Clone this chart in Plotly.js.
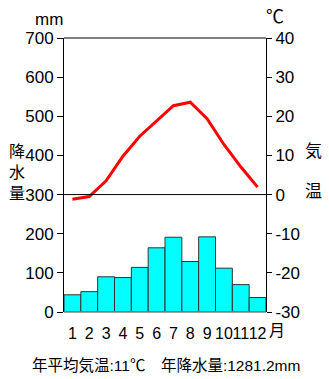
<!DOCTYPE html>
<html>
<head>
<meta charset="utf-8">
<script src="https://cdn.plot.ly/plotly-3.0.1.min.js"></script>
<style>
html,body{margin:0;padding:0;background:#fff;}
#chart{width:329px;height:379px;}
</style>
</head>
<body>
<div id="chart"></div>
<script>
var months = [1,2,3,4,5,6,7,8,9,10,11,12];
var monthLabels = ['1','2','3','4','5','6','7','8','9','10','11','12'];
var precipitation = [44,52,90,88,114,164,191,129,192,112,70,37];
var temperature = [-1.2,-0.5,3.5,9.8,14.9,18.7,22.7,23.6,19.4,12.8,7.1,1.9];
var precipTicks = [0,100,200,300,400,500,600,700];
var tempTicks = [-30,-20,-10,0,10,20,30,40];
var tempTickLabels = ['-30','-20','-10','0','10','20','30','40'];
var summaryText = '年平均気温:11℃　年降水量:1281.2mm';

var FONT = 'Liberation Sans, Arial, Noto Sans CJK JP, sans-serif';
var L = 64, R = 63, T = 38, B = 67, W = 329, H = 379;
var pw = W - L - R, ph = H - T - B;
function px(x){ return (x - L) / pw; }
function py(y){ return (H - B - y) / ph; }

var traces = [
  {
    type: 'bar', x: months, y: precipitation, yaxis: 'y',
    marker: {color: '#00FFFF', line: {color: '#333333', width: 1}},
    hoverinfo: 'skip'
  },
  {
    type: 'scatter', mode: 'lines', x: months, y: temperature, yaxis: 'y2',
    line: {color: '#FF0000', width: 3},
    hoverinfo: 'skip'
  }
];

var layout = {
  width: W, height: H,
  margin: {l: L, r: R, t: T, b: B, pad: 0},
  paper_bgcolor: '#fff', plot_bgcolor: '#fff',
  showlegend: false,
  bargap: 0,
  font: {family: FONT, color: '#000'},
  xaxis: {
    range: [0.5, 12.5], tickvals: months, ticktext: monthLabels, tickangle: 0,
    ticks: 'outside', ticklen: 7, tickcolor: 'rgba(0,0,0,0)',
    showline: false, showgrid: false, zeroline: false,
    tickfont: {size: 16, family: FONT, color: '#000'}, fixedrange: true
  },
  yaxis: {
    range: [0, 700], tickvals: precipTicks,
    ticks: 'outside', ticklen: 6, tickcolor: '#000', tickwidth: 1,
    showline: true, linecolor: '#000', linewidth: 1,
    showgrid: false, zeroline: false,
    tickfont: {size: 17, family: FONT, color: '#000'}, fixedrange: true
  },
  yaxis2: {
    overlaying: 'y', side: 'right', range: [-30, 40], tickvals: tempTicks, ticktext: tempTickLabels,
    ticks: 'outside', ticklen: 5, tickcolor: '#000', tickwidth: 1,
    showline: true, linecolor: '#000', linewidth: 1,
    showgrid: false, zeroline: false,
    tickfont: {size: 17, family: FONT, color: '#000'}, fixedrange: true
  },
  shapes: [
    {type: 'line', xref: 'paper', yref: 'paper', x0: 0, x1: 1, y0: 1, y1: 1,
     line: {color: '#808080', width: 2}},
    {type: 'line', xref: 'paper', yref: 'y', x0: 0, x1: 1, y0: 300, y1: 300,
     line: {color: '#000', width: 1}},
    {type: 'line', xref: 'paper', yref: 'paper', x0: 0, x1: 1, y0: 0, y1: 0,
     line: {color: '#808080', width: 1.5}}
  ],
  annotations: [
    {text: 'mm', xref: 'paper', yref: 'paper', x: px(49), y: py(19), xanchor: 'center', yanchor: 'middle',
     showarrow: false, font: {size: 17, family: FONT, color: '#000'}},
    {text: '℃', xref: 'paper', yref: 'paper', x: px(275), y: py(17), xanchor: 'center', yanchor: 'middle',
     showarrow: false, font: {size: 18, family: FONT, color: '#000'}},
    {text: '降<br>水<br>量', xref: 'paper', yref: 'paper', x: px(16.5), y: py(172.5), xanchor: 'center', yanchor: 'middle',
     showarrow: false, font: {size: 16, family: FONT, color: '#000'}},
    {text: '気', xref: 'paper', yref: 'paper', x: px(313.7), y: py(151.7), xanchor: 'center', yanchor: 'middle',
     showarrow: false, font: {size: 17, family: FONT, color: '#000'}},
    {text: '温', xref: 'paper', yref: 'paper', x: px(313.7), y: py(191.7), xanchor: 'center', yanchor: 'middle',
     showarrow: false, font: {size: 17, family: FONT, color: '#000'}},
    {text: '月', xref: 'paper', yref: 'paper', x: px(266.5), y: py(330.5), xanchor: 'left', yanchor: 'middle',
     showarrow: false, font: {size: 16, family: FONT, color: '#000'}},
    {text: summaryText, xref: 'paper', yref: 'paper', x: px(166), y: py(365), xanchor: 'center', yanchor: 'middle',
     showarrow: false, font: {size: 15.5, family: FONT, color: '#000'}}
  ]
};

Plotly.newPlot('chart', traces, layout, {staticPlot: true, displayModeBar: false});
</script>
</body>
</html>
